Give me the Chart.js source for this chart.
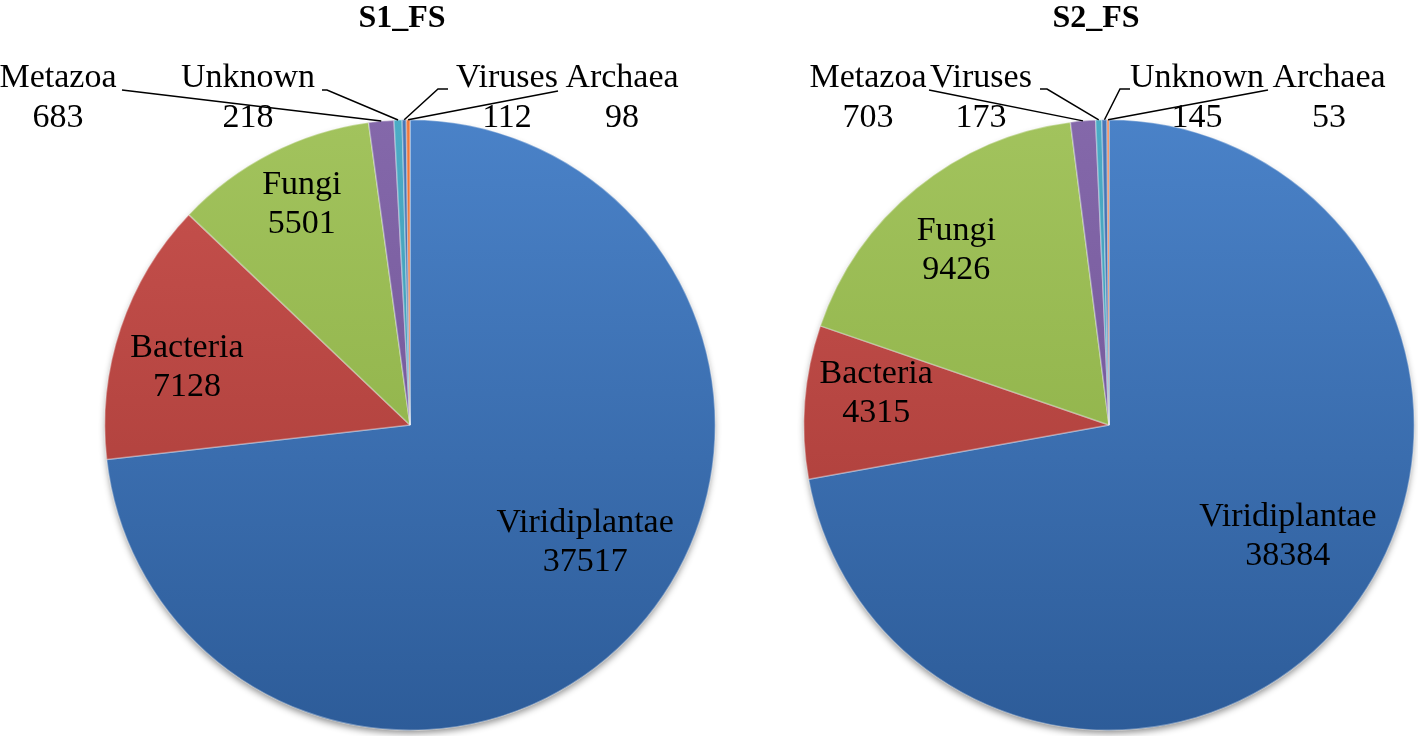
<!DOCTYPE html>
<html>
<head>
<meta charset="utf-8">
<script src="https://cdn.jsdelivr.net/npm/chart.js@4.4.1/dist/chart.umd.min.js"></script>
<style>
  body { margin: 0; background: #fff; width: 1418px; height: 736px; overflow: hidden; }
  canvas { position: absolute; top: 0; }
  #pie1 { left: 0; }
  #pie2 { left: 760px; }
</style>
</head>
<body>
<canvas id="pie1" width="760" height="736"></canvas>
<canvas id="pie2" width="658" height="736"></canvas>
<script>
// Read counts per taxon for the two samples
const s1Labels = ['Viridiplantae', 'Bacteria', 'Fungi', 'Metazoa', 'Unknown', 'Viruses', 'Archaea'];
const s1Values = [37517, 7128, 5501, 683, 218, 112, 98];

const s2Labels = ['Viridiplantae', 'Bacteria', 'Fungi', 'Metazoa', 'Viruses', 'Unknown', 'Archaea'];
const s2Values = [38384, 4315, 9426, 703, 173, 145, 53];

// top / bottom shades for each slice position (Office-like palette)
const shades = [
    ['#4a82c8', '#2d5c99'],
    ['#c8524e', '#a33834'],
    ['#a2c35d', '#86aa3f'],
    ['#8468aa', '#6a4e90'],
    ['#4bacc6', '#3a8ea6'],
    ['#4a78b8', '#3a66a2'],
    ['#f07a3c', '#d9602a']
];

const serif = '"Liberation Serif", "Times New Roman", serif';

function sliceFill(context) {
    const chart = context.chart;
    const area = chart.chartArea;
    const pair = shades[context.dataIndex % shades.length];
    if (!area) return pair[0];
    const g = chart.ctx.createLinearGradient(0, area.top, 0, area.bottom);
    g.addColorStop(0, pair[0]);
    g.addColorStop(1, pair[1]);
    return g;
}

// draws title, shadow, in-slice labels and leader-line labels
const pieLabels = {
    id: 'pieLabels',
    beforeDatasetsDraw(chart) {
        const a = chart.getDatasetMeta(0).data[0];
        if (!a) return;
        const ctx = chart.ctx;
        ctx.save();
        ctx.beginPath();
        ctx.arc(a.x, a.y + 1, a.outerRadius - 1, 0, Math.PI * 2);
        ctx.fillStyle = '#2f5f9f';
        ctx.shadowColor = 'rgba(0,0,0,0.45)';
        ctx.shadowBlur = 7;
        ctx.shadowOffsetY = 3;
        ctx.fill();
        ctx.restore();
    },
    afterDatasetsDraw(chart, args, opts) {
        const ctx = chart.ctx;
        const arcs = chart.getDatasetMeta(0).data;
        const labels = chart.data.labels;
        const values = chart.data.datasets[0].data;
        const cx = arcs[0].x, cy = arcs[0].y, r = arcs[0].outerRadius;
        const midAngle = (a, da) => (a.startAngle + a.endAngle) / 2 + (da || 0) * Math.PI / 180;

        ctx.save();
        ctx.fillStyle = '#000';
        ctx.textAlign = 'center';
        ctx.textBaseline = 'middle';

        ctx.font = 'bold 32px ' + serif;
        ctx.fillText(opts.title, cx + opts.titleDx, 19);

        ctx.font = '34px ' + serif;
        opts.inner.forEach(p => {
            const a = arcs[p.i];
            const ang = midAngle(a, p.da);
            const x = cx + Math.cos(ang) * r * p.f;
            const y = cy + Math.sin(ang) * r * p.f;
            ctx.fillText(labels[p.i], x, y - 19);
            ctx.fillText(String(values[p.i]), x, y + 20);
        });

        ctx.strokeStyle = '#000';
        ctx.lineWidth = 1.5;
        opts.outer.forEach(p => {
            const a = arcs[p.i];
            const ang = midAngle(a, 0);
            const ex = cx + Math.cos(ang) * r;
            const ey = cy + Math.sin(ang) * r;
            ctx.beginPath();
            ctx.moveTo(cx + p.lx, cy + p.ly);
            if (p.kx !== undefined) ctx.lineTo(cx + p.kx, cy + p.ly);
            ctx.lineTo(ex, ey);
            ctx.stroke();
            ctx.fillText(labels[p.i], cx + p.tx, cy - 347);
            ctx.fillText(String(values[p.i]), cx + p.tx, cy - 307);
        });
        ctx.restore();
    }
};

function makePie(id, labels, values, padding, labelOpts) {
    return new Chart(document.getElementById(id), {
        type: 'pie',
        data: {
            labels: labels,
            datasets: [{
                data: values,
                backgroundColor: sliceFill,
                borderColor: 'rgba(255,255,255,0.35)',
                borderWidth: 1.5
            }]
        },
        options: {
            responsive: false,
            animation: false,
            layout: { padding: padding },
            plugins: {
                legend: { display: false },
                tooltip: { enabled: false },
                pieLabels: labelOpts
            }
        },
        plugins: [pieLabels]
    });
}

makePie('pie1', s1Labels, s1Values, { left: 104, top: 119, right: 44, bottom: 5 }, {
    title: 'S1_FS',
    titleDx: -8,
    inner: [
        { i: 0, da: -8, f: 0.69 },
        { i: 1, da: -4, f: 0.755 },
        { i: 2, da: 1, f: 0.805 }
    ],
    outer: [
        { i: 3, tx: -352, lx: -288, ly: -335 },
        { i: 4, tx: -162, lx: -88, kx: -83, ly: -335 },
        { i: 5, tx: 97, lx: 38, kx: 28, ly: -336 },
        { i: 6, tx: 212, lx: 148, ly: -334 }
    ]
});

makePie('pie2', s2Labels, s2Values, { left: 43, top: 119, right: 3, bottom: 5 }, {
    title: 'S2_FS',
    titleDx: -13,
    inner: [
        { i: 0, da: -8, f: 0.69 },
        { i: 1, da: 3.5, f: 0.77 },
        { i: 2, da: -2, f: 0.76 }
    ],
    outer: [
        { i: 3, tx: -241, lx: -180, ly: -335 },
        { i: 4, tx: -128, lx: -69, kx: -62, ly: -336 },
        { i: 5, tx: 88, lx: 21, kx: 11, ly: -336 },
        { i: 6, tx: 220, lx: 159, ly: -335 }
    ]
});
</script>
</body>
</html>
